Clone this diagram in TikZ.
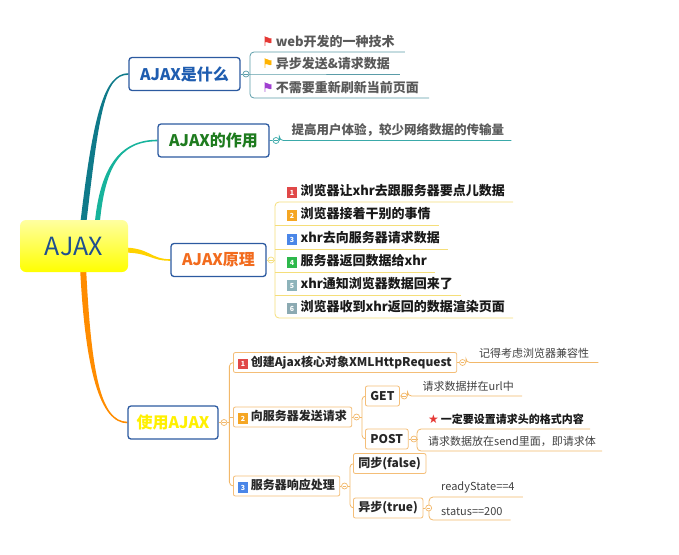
\documentclass[tikz,border=0pt]{standalone}
\usepackage{fontspec}
\setmainfont{Noto Sans CJK SC}
\newfontfamily\sym{DejaVu Sans}
\usepackage{xcolor}
\definecolor{CoreTop}{HTML}{FFFFA0}
\definecolor{CoreBot}{HTML}{FFFF00}
\definecolor{CoreText}{HTML}{1F4F8F}
\definecolor{TopicBlue}{HTML}{2C5AA0}
\definecolor{WhatText}{HTML}{1F5DB0}
\definecolor{RoleText}{HTML}{1E7B1E}
\definecolor{HowText}{HTML}{F26B1D}
\definecolor{UseText}{HTML}{FFF000}
\definecolor{BrTeal}{HTML}{0F7A8A}
\definecolor{BrTealB}{HTML}{17B39C}
\definecolor{BrYellow}{HTML}{FFD200}
\definecolor{BrOrange}{HTML}{FF8C00}
\definecolor{LineTeal}{HTML}{5A9CA8}
\definecolor{LineTealB}{HTML}{3AA9A9}
\definecolor{LineYellow}{HTML}{F5DE7A}
\definecolor{LineOrange}{HTML}{F2B86A}
\definecolor{SubOrange}{HTML}{F4BE78}
\definecolor{ItemGrey}{HTML}{595959}
\definecolor{NoteGrey}{HTML}{404040}
\definecolor{FlagRed}{HTML}{E53935}
\definecolor{FlagOrange}{HTML}{FFB300}
\definecolor{FlagPurple}{HTML}{A040D0}
\definecolor{BadgeRed}{HTML}{E04848}
\definecolor{BadgeOrange}{HTML}{F5A623}
\definecolor{BadgeBlue}{HTML}{4A86E8}
\definecolor{BadgeGreen}{HTML}{2DB84B}
\definecolor{BadgeTeal}{HTML}{8DB3BA}
\definecolor{BadgeSlate}{HTML}{8CAAB2}
\usetikzlibrary{positioning,backgrounds}

\newcommand{\flagicon}[1]{{\sym\fontsize{13}{14}\selectfont\color{#1}⚑}}
\newcommand{\badge}[2]{{\setlength{\fboxsep}{1.2pt}\raisebox{-0.5pt}{\colorbox{#1}{\makebox[7pt]{\rule[-1pt]{0pt}{8pt}\color{white}\fontsize{7}{8}\selectfont\bfseries #2}}}}}

\begin{document}
\begin{tikzpicture}[x=1pt, y=-1pt,
    hub/.style={
      rounded corners=6pt, top color=CoreTop, bottom color=CoreBot,
      minimum width=108pt, minimum height=52pt,
      font=\fontsize{25}{28}\selectfont, text=CoreText
    },
    topic/.style={
      draw=TopicBlue, line width=1.3pt, fill=white, rounded corners=3pt,
      minimum height=33pt, inner xsep=0pt,
      font=\fontsize{16}{18}\selectfont\bfseries, text=#1
    },
    sub/.style={
      draw=SubOrange, line width=0.8pt, fill=white, rounded corners=2pt,
      minimum height=20pt, inner xsep=5pt, anchor=west,
      font=\fontsize{12}{14}\selectfont\bfseries, text=black!85
    },
    item/.style={anchor=south west, inner xsep=0pt, inner ysep=4pt,
      font=\fontsize{13}{15}\selectfont\bfseries, text=black!90},
    note/.style={anchor=south west, inner xsep=0pt, inner ysep=4pt,
      font=\fontsize{11}{13}\selectfont, text=NoteGrey},
    mk/.style={
      circle, draw=#1, fill=white, line width=0.7pt, minimum size=6pt, inner sep=0pt,
      path picture={\draw[#1, line width=0.6pt]
        ([xshift=1.3pt]path picture bounding box.west) --
        ([xshift=-1.3pt]path picture bounding box.east);}
    },
    br/.style={draw=#1, line width=0.8pt, rounded corners=4pt}
  ]
  \useasboundingbox (0,0) rectangle (679,554);

  % centre and main topics
  \node[hub] (core) at (74,246) {AJAX};
  \node[topic=WhatText, minimum width=111pt] (what) at (184.5,74) {AJAX是什么};
  \node[topic=RoleText, minimum width=111pt] (role) at (213.5,140.5) {AJAX的作用};
  \node[topic=HowText, minimum width=95pt] (how) at (218.5,260) {AJAX原理};
  \node[topic=UseText, minimum width=90pt] (use) at (173,422.5) {使用AJAX};

  \node[mk=LineTeal, right=2pt of what] (m1) {};
  \node[mk=LineTealB, right=3pt of role] (m2) {};
  \node[mk=LineYellow, right=1pt of how] (m3) {};
  \node[mk=LineOrange, right=2pt of use] (m4) {};

  % what
  \node[item, text=ItemGrey] (w1) at (250,52) {\kern12pt\flagicon{FlagRed}\kern2pt web开发的一种技术\kern10pt};
  \node[item, text=ItemGrey] (w2) at (250,74) {\kern12pt\flagicon{FlagOrange}\kern2pt 异步发送\&请求数据\kern10pt};
  \node[item, text=ItemGrey] (w3) at (250,98) {\kern12pt\flagicon{FlagPurple}\kern2pt 不需要重新刷新当前页面\kern10pt};

  % role
  \node[item, text=ItemGrey, font=\fontsize{12.5}{14}\selectfont\bfseries] (r1) at (m2.east)
    {\kern12pt 提高用户体验，较少网络数据的传输量\kern7pt};

  % how
  \node[item] (h1) at (275,202) {\kern12pt\badge{BadgeRed}{1}\kern4pt 浏览器让xhr去跟服务器要点儿数据\kern8pt};
  \node[item] (h2) at (275,225) {\kern12pt\badge{BadgeOrange}{2}\kern4pt 浏览器接着干别的事情\kern8pt};
  \node[item] (h3) at (275,249) {\kern12pt\badge{BadgeBlue}{3}\kern4pt xhr去向服务器请求数据\kern8pt};
  \node[item] (h4) at (275,272) {\kern12pt\badge{BadgeGreen}{4}\kern4pt 服务器返回数据给xhr\kern8pt};
  \node[item] (h5) at (275,295) {\kern12pt\badge{BadgeTeal}{5}\kern4pt xhr通知浏览器数据回来了\kern8pt};
  \node[item] (h6) at (275,318) {\kern12pt\badge{BadgeSlate}{6}\kern4pt 浏览器收到xhr返回的数据渲染页面\kern8pt};

  % use
  \coordinate (ub) at ([xshift=2pt]m4.east);
  \node[sub] (u1) at (233,362.5) {\badge{BadgeRed}{1}\kern3pt 创建Ajax核心对象XMLHttpRequest};
  \node[sub] (u2) at (233,417) {\badge{BadgeOrange}{2}\kern3pt 向服务器发送请求};
  \node[sub] (u3) at (233,486) {\badge{BadgeBlue}{3}\kern3pt 服务器响应处理};

  \node[mk=LineOrange, right=2pt of u1] (mu1) {};
  \node[note] (n1) at (mu1.east) {\kern13pt 记得考虑浏览器兼容性\kern9pt};

  \node[mk=LineOrange, right=1pt of u2] (mu2) {};
  \coordinate (vb) at ([xshift=2pt]mu2.east);
  \node[sub] (get) at (365,396) {GET};
  \node[sub] (post) at (365,439) {POST};
  \node[mk=LineOrange, right=1pt of get] (mg) {};
  \node[note] (gn) at (mg.east) {\kern15pt 请求数据拼在url中\kern8pt};
  \node[mk=LineOrange, right=2pt of post] (mp) {};
  \node[item, font=\fontsize{11}{13}\selectfont\bfseries] (pa) at (417,429)
    {\kern11pt{\sym\fontsize{12}{13}\selectfont\color{FlagRed}★}\kern2pt 一定要设置请求头的格式内容\kern6pt};
  \node[note] (pn) at (417,451) {\kern11pt 请求数据放在send里面，即请求体\kern6pt};

  \node[mk=LineOrange, right=1pt of u3] (mu3) {};
  \coordinate (sb) at ([xshift=2pt]mu3.east);
  \node[sub] (sync) at (353,463.5) {同步(false)};
  \node[sub] (async) at (353,508) {异步(true)};
  \node[mk=LineOrange, right=2pt of async] (ma) {};
  \node[note] (rs) at (429,497) {\kern12pt readyState==4\kern8pt};
  \node[note] (st) at (429,520) {\kern12pt status==200\kern8pt};

  \begin{scope}[on background layer]
    % tapered main branches
    \coordinate (s1) at ([xshift=9pt,yshift=-6pt]core.north);
    \coordinate (s2) at ([xshift=23pt,yshift=-6pt]core.north);
    \coordinate (s3) at ([xshift=-6pt,yshift=-4pt]core.east);
    \coordinate (s4) at ([xshift=9pt,yshift=6pt]core.south);
    \fill[BrTeal] ([xshift=-3pt]s1) .. controls (93,115) and (104,73.2) .. ([yshift=0.8pt]what.west)
      -- ([yshift=-0.8pt]what.west) .. controls (104,74.8) and (99,115) .. ([xshift=3pt]s1) -- cycle;
    \fill[BrTealB] ([xshift=-2.5pt]s2) .. controls (99.5,170) and (118,139.7) .. ([yshift=0.8pt]role.west)
      -- ([yshift=-0.8pt]role.west) .. controls (118,141.3) and (104.5,170) .. ([xshift=2.5pt]s2) -- cycle;
    \fill[BrYellow] ([yshift=2.5pt]s3) .. controls (150,247.5) and (150,259.2) .. ([yshift=0.8pt]how.west)
      -- ([yshift=-0.8pt]how.west) .. controls (150,260.8) and (150,252.5) .. ([yshift=-2.5pt]s3) -- cycle;
    \fill[BrOrange] ([xshift=-3pt]s4) .. controls (85,370) and (100,423.3) .. ([yshift=-0.8pt]use.west)
      -- ([yshift=0.8pt]use.west) .. controls (100,421.7) and (91,370) .. ([xshift=3pt]s4) -- cycle;

    % what
    \draw[br=LineTeal] (what.east) -- (m1) -- (w2.south west) -- (w2.south east);
    \draw[br=LineTeal] (w1.south east) -- (w1.south west) -- (w3.south west) -- (w3.south east);
    % role
    \draw[br=LineTealB] (role.east) -- (m2) -- (r1.south west) -- (r1.south east);
    % how
    \draw[br=LineYellow] (how.east) -- (m3) -- (m3 -| h1.south west);
    \draw[br=LineYellow] (h1.south east) -- (h1.south west) -- (h6.south west) -- (h6.south east);
    \foreach \i in {2,...,5}
      \draw[br=LineYellow] (h\i.south west) -- (h\i.south east);
    % use
    \draw[br=LineOrange] (use.east) -- (m4) -- (ub);
    \draw[br=LineOrange] (u1.west) -| (ub) |- (u3.west);
    \draw[br=LineOrange] (u2.west) -- (u2.west -| ub);
    \draw[br=LineOrange] (u1.east) -- (mu1) -- (n1.south west) -- (n1.south east);
    \draw[br=LineOrange] (u2.east) -- (mu2) -- (vb);
    \draw[br=LineOrange] (get.west) -| (vb) |- (post.west);
    \draw[br=LineOrange] (get.east) -- (mg) -- (gn.south west) -- (gn.south east);
    \draw[br=LineOrange] (post.east) -- (mp) -- (mp -| pa.south west);
    \draw[br=LineOrange] (pa.south east) -- (pa.south west) -- (pn.south west) -- (pn.south east);
    \draw[br=LineOrange] (u3.east) -- (mu3) -- (sb);
    \draw[br=LineOrange] (sync.west) -| (sb) |- (async.west);
    \draw[br=LineOrange] (async.east) -- (ma) -- (ma -| rs.south west);
    \draw[br=LineOrange] (rs.south east) -- (rs.south west) -- (st.south west) -- (st.south east);
  \end{scope}
\end{tikzpicture}
\end{document}
